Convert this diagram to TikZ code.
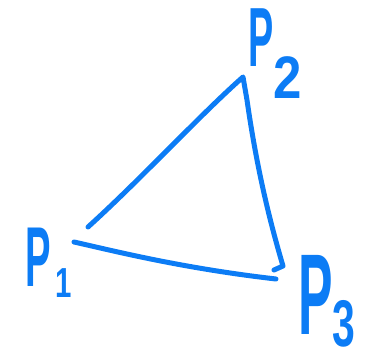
\documentclass[tikz,border=0pt]{standalone}
\usepackage{fontspec}
\setmainfont{Liberation Sans}
\usepackage{graphicx}
\definecolor{ink}{RGB}{12,124,245}
\newcommand\plabel[7]{\bfseries\scalebox{#1}[1]{\fontsize{#2}{#2}\selectfont P}\kern#7\raisebox{-#6}{\scalebox{#5}[1]{\fontsize{#4}{#4}\selectfont #3}}}
\begin{document}
\begin{tikzpicture}[x=1pt,y=-1pt,
  stroke/.style={draw=ink,line width=5pt,line cap=round,line join=round},
  lab/.style={text=ink,inner sep=0pt,anchor=base west}]
\useasboundingbox (0,0) rectangle (373,363);
\coordinate (a1) at (88,227);
\coordinate (a2) at (74,242);
\coordinate (b) at (243,77);
\coordinate (b2) at (247,100);
\coordinate (c) at (283,266);
\coordinate (c2) at (274,270);
\coordinate (c3) at (276,279);
\draw[stroke] (a1) .. controls (140,180) and (200,115) .. (b) -- (b2)
  .. controls (257,170) and (270,222) .. (c) -- (c2);
\draw[stroke] (a2) .. controls (110,250) and (180,268) .. (c3);
\node[lab] (p1) at (25,287) {\plabel{0.45}{85}{1}{42}{0.7}{11pt}{5pt}};
\node[lab] (p2) at (248,67) {\plabel{0.45}{84}{2}{60}{0.85}{32pt}{0pt}};
\node[lab] (p3) at (298,335) {\plabel{0.45}{115}{3}{66}{0.62}{12pt}{0pt}};
\end{tikzpicture}
\end{document}
